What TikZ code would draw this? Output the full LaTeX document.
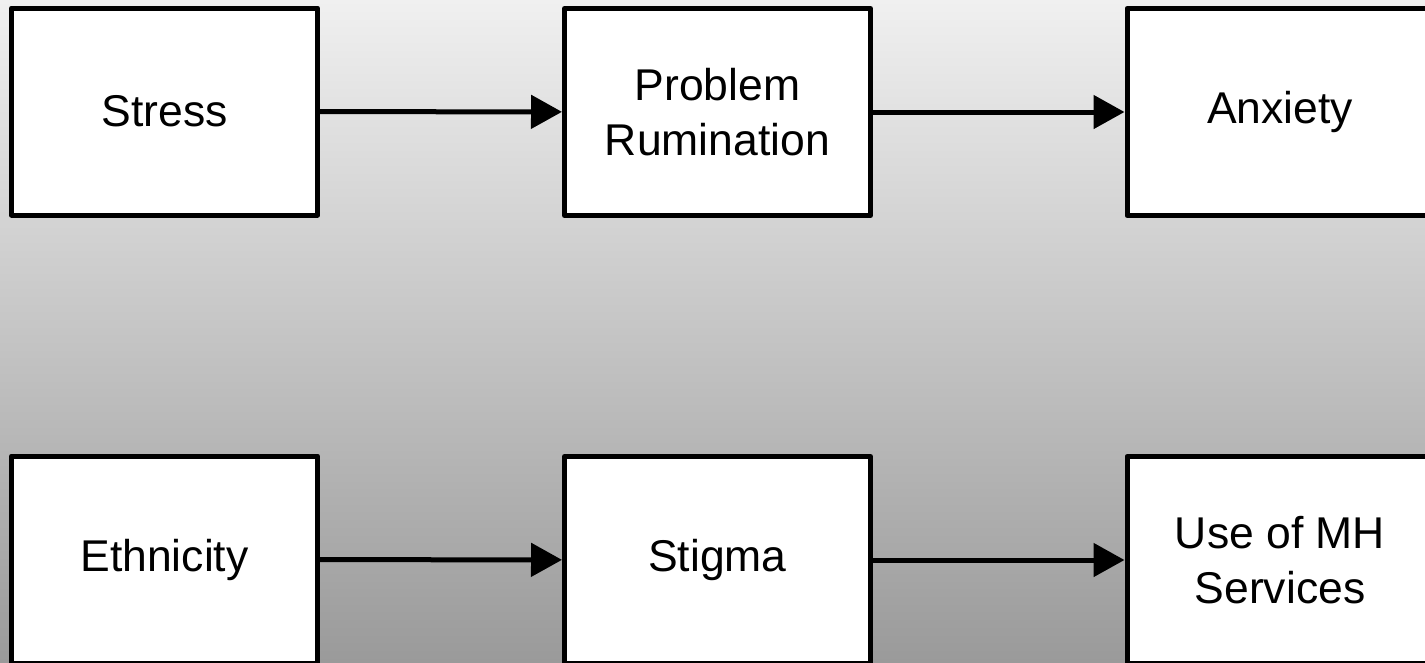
\documentclass[tikz,border=0pt]{standalone}
\usepackage{fontspec}
\setmainfont{Liberation Sans}
\usetikzlibrary{arrows.meta}

\tikzset{
  varbox/.style={draw=black, fill=white, line width=5pt, line join=round,
    minimum width=306pt, minimum height=207pt, inner sep=0pt,
    align=center, font=\fontsize{44.5}{55}\selectfont},
  link/.style={line width=5pt, -{Triangle[length=31pt,width=33pt]}}
}

\begin{document}
\begin{tikzpicture}[x=1pt, y=-1pt]
  \useasboundingbox (0,0) rectangle (1425,662);
  \clip (0,0) rectangle (1425,662);
  % graded backdrop
  \shade[top color={rgb,255:red,240;green,240;blue,240},
         bottom color={rgb,255:red,154;green,154;blue,154}]
    (0,0) rectangle (1425,662);

  % first chain
  \node[varbox] (stress) at (164.5,111.5) {Stress};
  \node[varbox] (rum)    at (717.5,112)   {Problem\\Rumination};
  \node[varbox] (anx)    at (1280,112)    {Anxiety};

  % second chain
  \node[varbox] (eth)    at (164.5,559.5) {Ethnicity};
  \node[varbox] (stig)   at (717.5,560)   {Stigma};
  \node[varbox] (mh)     at (1280,560)    {Use of MH\\Services};

  \draw[link] (stress) -- (rum);
  \draw[link] (rum) -- (anx);
  \draw[link] (eth) -- (stig);
  \draw[link] (stig) -- (mh);
\end{tikzpicture}
\end{document}
